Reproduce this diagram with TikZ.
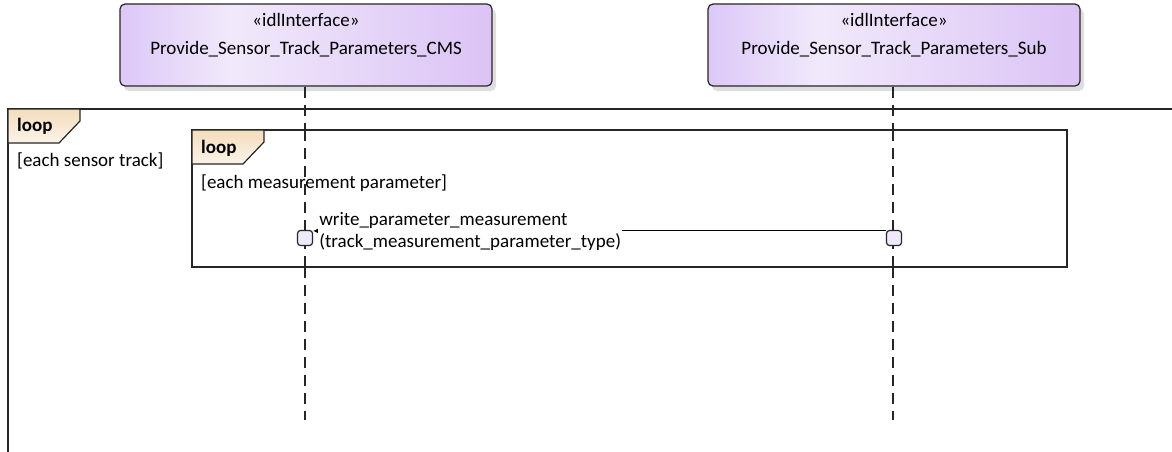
\documentclass[tikz,border=0pt]{standalone}
\usepackage{fontspec}
\setmainfont{Carlito}
\usepackage{tikz}
\usepackage{xcolor}
\usetikzlibrary{arrows.meta,positioning,shadows}
\definecolor{SDLavL}{HTML}{DCC8F7}
\definecolor{SDLavM}{HTML}{F1E9FB}
\definecolor{SDLavR}{HTML}{DBC3F5}
\definecolor{SDAct}{HTML}{F0E9FC}
\definecolor{SDTabTop}{HTML}{F3DDBD}
\definecolor{SDTabBot}{HTML}{FBF3E8}
\definecolor{SDInk}{HTML}{262626}
\pgfdeclarehorizontalshading{SDIface}{100bp}{color(0bp)=(SDLavL); color(25bp)=(SDLavL);
  color(40bp)=(SDLavM); color(75bp)=(SDLavR); color(100bp)=(SDLavR)}

\begin{document}
\begin{tikzpicture}[
    x=1pt,y=-1pt,font=\fontsize{19}{22}\selectfont,
    iface/.style={draw=SDInk,line width=1.2pt,rounded corners=5pt,shading=SDIface,
      minimum width=372pt,minimum height=82pt,inner sep=0pt,
      drop shadow={shadow xshift=4pt,shadow yshift=-5pt,fill=black!13,opacity=1}},
    ifacetext/.style={anchor=north,align=center,inner sep=0pt},
    lifeline/.style={draw=SDInk,line width=1.2pt,dash pattern=on 11pt off 7pt},
    act/.style={draw=SDInk,line width=1.2pt,rounded corners=3pt,fill=SDAct,
      minimum width=15pt,minimum height=15pt,inner sep=0pt},
    frame/.style={draw=SDInk,line width=1.4pt},
    tab/.style={draw=SDInk,line width=1.2pt,top color=SDTabTop,bottom color=SDTabBot},
    tabtext/.style={anchor=west,inner sep=0pt,font=\fontsize{19}{22}\selectfont\bfseries},
    guard/.style={anchor=west,inner sep=0pt},
    msg/.style={-{Latex[length=5pt,width=5pt]},draw=black,line width=1pt},
    msglabel/.style={anchor=west,fill=white,align=left,inner sep=1pt}
  ]
    \useasboundingbox (0,0) rectangle (1172,452);

    % lifeline heads
    \node[iface] (cms) at (306,45) {};
    \node[ifacetext] (cmsname) at ([yshift=-10pt]cms.north) {«idlInterface»\\[6pt]Provide\_Sensor\_Track\_Parameters\_CMS};
    \node[iface] (sub) at (894,45) {};
    \node[ifacetext] (subname) at ([yshift=-10pt]sub.north) {«idlInterface»\\[6pt]Provide\_Sensor\_Track\_Parameters\_Sub};

    \coordinate (cmsend) at (305,420);
    \coordinate (subend) at (893,420);
    \draw[lifeline] (cms.south -| cmsend) -- (cmsend);
    \draw[lifeline] (sub.south -| subend) -- (subend);

    % outer loop
    \draw[frame] (1172,109) -- (8,109) -- (8,452);
    \draw[tab] (8,109) -- (80,109) -- (80,121) -- (59,143) -- (8,143) -- cycle;
    \node[tabtext] (outerloop) at (17,126) {loop};
    \node[guard] (outerguard) at (17,161) {[each sensor track]};

    % inner loop
    \draw[frame,fill=white] (192,130) rectangle (1067,267);
    \draw[tab] (192,130) -- (264,130) -- (264,142) -- (243,164) -- (192,164) -- cycle;
    \node[tabtext] (innerloop) at (201,148) {loop};
    \node[guard] (innerguard) at (201,183) {[each measurement parameter]};

    % lifelines inside the inner frame
    \draw[lifeline] (cmsend |- 130,130) -- (cmsend |- 267,267);
    \draw[lifeline] (subend |- 130,130) -- (subend |- 267,267);

    % activations and message
    \node[act] (cmsact) at (305,238) {};
    \node[act] (subact) at (894,238) {};
    \draw[msg] ([yshift=-1pt]subact.north west) -- ([yshift=-1pt]cmsact.north east);
    \node[msglabel] (msgtext) at ([xshift=5pt,yshift=-2pt]cmsact.north east)
      {write\_parameter\_measurement\\(track\_measurement\_parameter\_type)};
\end{tikzpicture}
\end{document}
